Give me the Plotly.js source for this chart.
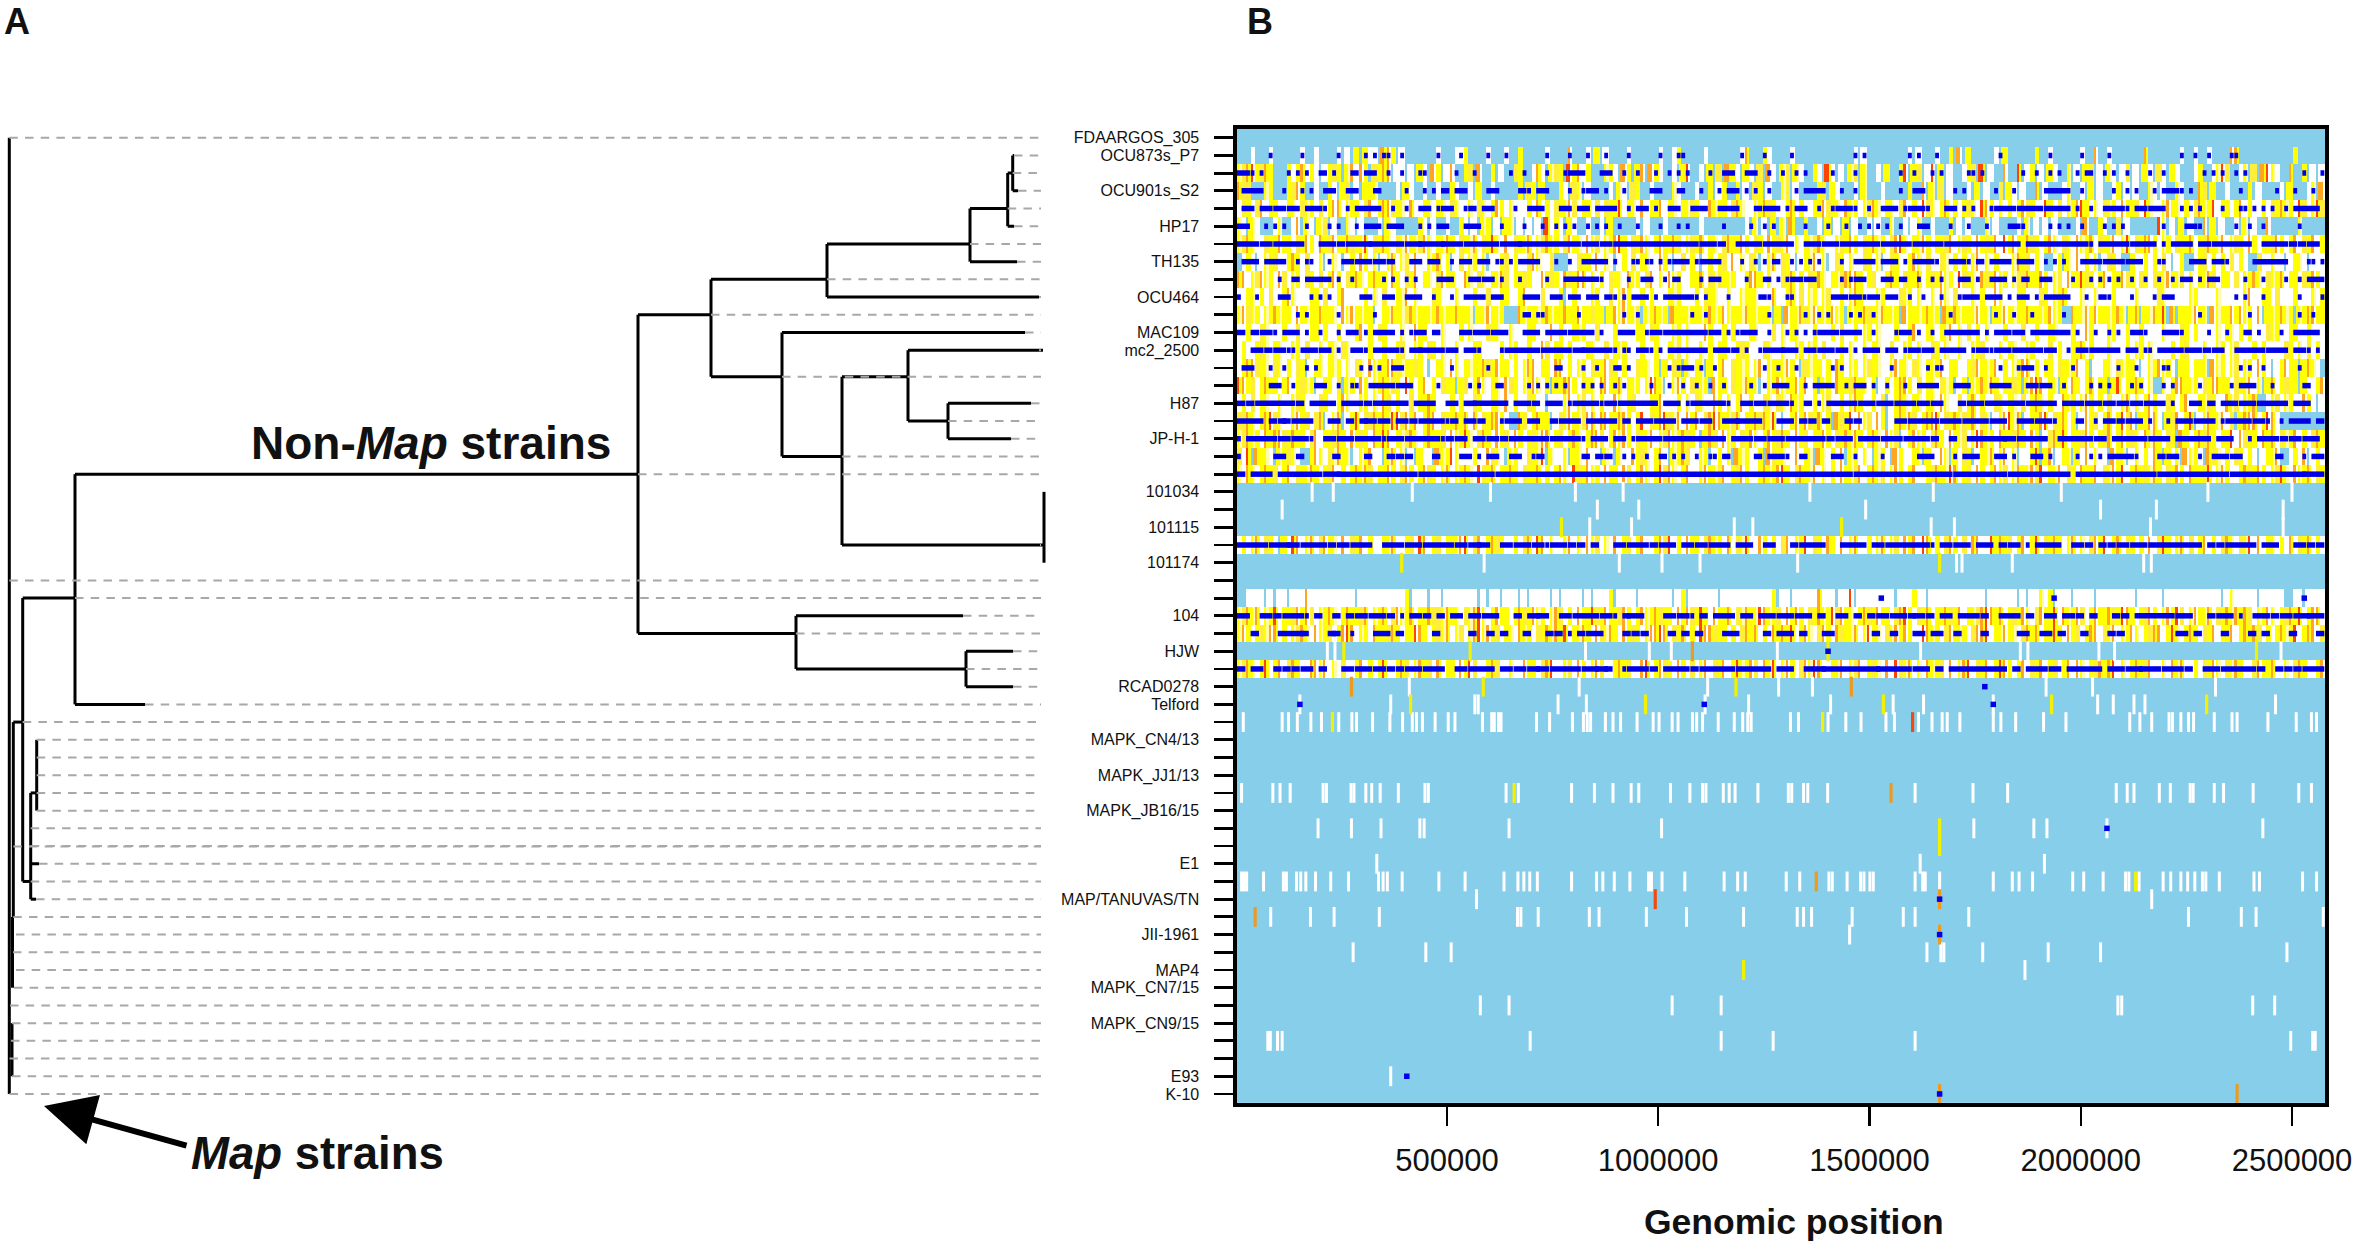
<!DOCTYPE html>
<html><head><meta charset="utf-8">
<script src="https://cdn.plot.ly/plotly-3.0.1.min.js"></script>
<style>html,body{margin:0;padding:0;background:#fff}</style></head>
<body><div id="chart" style="width:2355px;height:1246px"></div>
<script>
// ---- row labels (one per genome row, top to bottom) ----
const rowLabels = ["FDAARGOS_305","OCU873s_P7","","OCU901s_S2","","HP17","","TH135","","OCU464","","MAC109","mc2_2500","","","H87","","JP-H-1","","","101034","","101115","","101174","","","104","","HJW","","RCAD0278","Telford","","MAPK_CN4/13","","MAPK_JJ1/13","","MAPK_JB16/15","","","E1","","MAP/TANUVAS/TN","","JII-1961","","MAP4","MAPK_CN7/15","","MAPK_CN9/15","","","E93","K-10"];
const genomeTicks = [500000,1000000,1500000,2000000,2500000];
const binSize = 10729, genomeStart = 3154, genomeEnd = 2578076;

// ---- SNP density per 10.7 kb bin: . none, w white, y yellow, g pale gold, o orange, r red ----
const denseRows = [1,2,3,4,5,6,7,8,9,10,11,12,13,14,15,16,17,18,19,23,26,27,28,30];
const denseBins = [
"...w...w.. ....w..w.. ..w.w.y.yw w.ooy.w... ....w...ww y....w...w ..y.....w. ...o...w.y .w....w... ...w..wy.. ...w...... .wo...yw.. ..w....... ......w.w. ........w. w...w..y.o .y.....w.y ......y..w ......w..o ..w....... o.......w. .w..w....o o......... ...y......",
"ygorygoy.. .ywyowyw.w ygy.yowoy. gyoo.ww.w. yw.oy.wo.. yg.o..y.w. .gy..wow.y gy.ryowy.. .yyw.oy.yo .oyw..w.yr ..w.y.g.oy w.yw.g.ow. yg.yw..yw. rw.w.yg.y. .w.y..yr.y g.wr.y.w.. wyg.r.w..o ..r.wy.w.y w..y.w.yg. w.yw.wg.w. yw.gw.yw.. .wy..wyrg. .wy.g.oryw ..o..y.w.w",
"ogg...yy.. .ygoy..w.. yw.yg.w.yy y....w.yw. .w..w..yw. .w.y..w... ..y.gy.y.. .yw.gy.w.. ..w.yw.gy. .w....yw.. .w..y.wy.. y.w.gy.w.. yg.w....yg .yw...w.y. ..w.....y. .o.y.g.w.. .w.y.w..g. yw.w..o.w. ..wy..w.y. w..wy.w.w. .yw.w..yw. ..og.y..w. ...y.w.... w.y...wy.o",
"wgywgowyyw wyywgyywgw yoowyyywgo wyoogyywow wyywyywgyw wywgywyoyw ywwwywowyw gyyogwyywg wgyyrwyywo wyyowyywyy gywwoyyywg oywwyyogyw wyowywwyyo gyywoyywyg oywyywgowy wrgywyowyw ygywroywyw ywyogywwry wgwyyorywy wgyywoyygw rywwyoyywy wgoyyrwyyw yowywwywgy oyywrgwyrg",
"yw.yw...wy ..wo.yw.yg .w..yw.w.. .w.yw..... yw.w..w..y w.w.yy.w.y y.w.w.w.rw yw.yw..w.. w.y.....w. w...w..... ..w....... ..w.y.w.y. y.o..y..w. y.w.y.w..w .w..y..w.w y..w...y.w .w...y.w.. ..w.y.w.w. w....w.o.. yw..g.w... ...ry.w.y. w..o.y.w.. w.y.w..o.. ....y.....",
"ygoywwgyyo yywgyoywoy goyyogyyrw gyoywgyoyy goywyyoywg yyowgyrywo wgyyowygoy ywgoyywoyg wyyorywgyo ywyoyyogwy gyowyywgoy yoywgywoyg yowywyygoy wwygyoywgy oyywgorywy yoywyygowy gywoygyowr yoyyogywyo ywgywoyyow gyyowyrwgy ooywyywgyy owygoyyowy gywoywyygo ywyowgyowy",
".wyw.wyygw wyoywgwwy. wyw.wywoyw y.wyowygwo wwyyowy.wg wyywy.wwyg wywwgoywwg ...wwgyywo wyw.wywgwy ywwoyw.wgw yw.wywygwo wywgy.wyow gyw.wyyowy .wgywywwgy wy.wgywwyo ywgwwgywyw ywyowywyww wyoygwyw.. wy.ywowywy .wgyw..yww ywywgw.wy. .wygwywywg wyw..gwwyw w.wyyw.www",
"oowygoyywo gwyywgywgw yoywgyoywy oyywoywgyo wyywgoyyww oywgywyyog wyygywwoyg ywogyoowyw ywgyywoyyw gowywoyyww yyowgygyyy wwyooywyww gyowywgyoy wyygoooywy gwwyoywgyy owygyoyywr gyywogyoyy wyggoyyoyw ygwoyyrgyw yowyyogywg ywgyyoyygw ywyyogwyyw gwyyoywgyy owyywgyoyw",
"wwyywywgww yoywwwyywg wwyowwwwyw ywgwwyyowy wwwgywwwyw wwywwgwwyy wwyowwwgww wy.wywwwyy wwgwyoywwy wywwwyyyww wywgyywwyw wyyyywwwow wyowgwyywy gwwywyoyww wyywwwgyyw ywwywoywgw wwywywwoyw wwyywwwgyw yyowwwywwy wwwywwwwyw wwwgywwwww yywwwwywww wwyowwyywg wwwywwwywy",
"yogyywyyoy yywoyyyyoy yywoyoyyyy .wyyoyygoy yyyyoyyyoy yy.yyoyyy. ..oyyyyyoy yyoyyoyygy y.yoyoyyg. yyoyy.oyyy yyyyoyyoyy yyoyyyyy.y .oyyogyoyy yoyy.yyyog yyoyyy.oyy yyoyy.oyoy yyyoyy.yyo yyyyoyyyyo yy..oyyoyo yyyyoy.yo. yyoyr.o.yy yoyy.oyyyo yoyywo.yyy oyy.yyooyy",
"wwywwgywww ywwgwwyywy wwywwwyowy wgywwwywwo yywwwywwwy wywwwgyyww ywwwyywwwo wywwyyywwg wwwywwwwyy wgywwwyywy wwwoywwywy wwwyywwwgw ywyywwwyww wywgwwywyy wywwwywwyo wwyywyyowy wgwywywwwy wwwgwwywwy ywwwywwoyw wwyywwywwy wwwwywwwgy wywwwwywyy wywywwwgyy wwyywwywww",
"wywwygywyy wwyywgwwyw yywgywwwwy wwywwygwwy ywgywywwyw wwyywwwwyw yywwywwogw yywywwwyyw wgwyyywwwy wwywwyygwy wwywywyyww ygywwwgyww ywwyywyywg wwwywywwyw yywwgwwyyw ywwgywywwy wwyygwwwyw yywwyywwwg wywwyyowyw wwywwwywyy wywwwwywyg wwwywwyywy gwwwywywww wgywywgwyw",
"wyoogyywgy wywgy.wyyw yyywywgywo yyyoogyyyg yw.wyywoyw yyyyogyoyy wywyoowyyw oowywyywgy yogywywwgy ywy.ywgy.y wyy.ywyowg yyywyowyyy yoyw.gyyyw ywoywyywyg yywwyoyywg ywyyyowyyw wygoyyyowy wyyoowywyy wgyyyowy.w wyywgyyyw. wyyoyyw.yy wyyy.oyywy gwyywoyw.w yoyy.yoyw.",
"roygwyoyyw yowygyy.wy ywg.yywoyw yyoygywryw yowywgyy.y gwyoywyywo gywyyoywy. yyooywgyyw ooyyowyyyw yroy.wyoyw gyyy.oyywg yyoyy.wyyo yyyoyowy.y ywoyygoyyw y.wywyooyw gwyywgyy.w y.yyoyoywy ygy.yorowy y.ywoywyow yy.yrwyyoy wy..ywyooy yywgyooyyw gyyowy.yow ygyy.ywwyo",
"wywgwyywwy wwygywwwgy wwyoywwyyw ywogwywwgw yyoywwwywy wwgywwyywo wywwgyww.w wwyowygwyw ywwoywygww wyyowwwywy wgywwoywyw yowywwgywg ywoyywwywy gwwywyoyww ywg.wyoywy ywyywoywwg wyowywwgyw yywgwyoywy wwoyywyoyw ywgwwyowyw yoywwgywyo wwyygywwoy gwyyo..wyg wyywwoyw.w",
"ggoywyorgy wwyoygwgo. wyo.wyrwgg oyoyrrgoyo wyoowgyyoy owowgyooyw ..ogwyoyy. wgyoyygoow ooyyooywyr wgyorgyowo yowgoroyyg owyyogoyrw .wyoyogyow y.ogyrwoyg woy.wyoyog wyoorwgyoy gyowgy.wyo ryo.wyyorw gyowy.woyg wyowyrgo.y yoow.ygowy r.wyoyyowg .yooowyrow",
"ygoyywoyoo gyoyywgowy ygoywoygyw oyrowyygoy wyoyygwoyy rywgoywoyg woywygyoow ygwyoywyoo gwyoyoywgy yowygoyyog yw.yogwoyy wgyoywyoyg oywoygwyyo ywgyoyoywy oywoyg.wyo yywgoywoyy gwyroyywoy ygoywoy.wg oyrwyygoyw ygowyoygyw oyoywgy.oy wyogoywyyr wogyywoyow gyyowywgoy",
"gwr.oyyw.y ygyw..yoyw gyoyy.wyyo ww.yowy.w. yww.oyyryw wwywwogyw. yywwgyyr.y wwy.yywoww .yw.ywwoyg ywyow.yyog wwyy.wywy. oyywwy.ogy ywwowyy.oy wywo.yywyw .yyw.oywwy y.ywwoy.yw gy.wyyowyo wy.wwyr.yo .wyy.ywowy ww.oyy.wyw ywoy.ywy.o yyw.ogywyw gywyw.wyyo ..wywo.wyw",
"ywoywyoygw yowgyyoywy gowywyoyog wyyoywgoyw yogywyowyy oywrgyowyy oywgyyowyw yoywrgyoyy woyywogwyo ywyrgoywyo wwyoyygowy goywwyoyyo rywgoyyowy wywoyygowy oygwyoywyo wwygoyyrow ygwoywyoyg wyoyyogrwy yowgywoyyo wgyoyrwyoy gyoywgyoyw oyygrwyoyw wyogyoywyg rywoyyowgy",
"wywyowgyw. ywrowyowgo yywowgyowy wwyyowwygw rowygwyyyo rwgowyogyw wywgowrowy wwyowywoyg wywowygwyo wwyogrwywo yywgoyywow gyrwwoywyw gowyyrwgyw oywowyowwy wyowygwoyo wrowywgoyw gwoowwryoy gwyowyrwgy oywyowywgo yrwyowgywy wowgrywyow gwyowywgoy wgyrwowyyw ywowgyowyw",
"..wwww.w.w w.wwwowwww wwwwww.www wwwwwwwy.w ww.ww.wwww www.w.ww.w ww.w.wwww. w.wwww.w.w wwy.wwww.w wwwwww.wy. wwwwww.www wwwwwwwwy. ww.wwwwwow ww.wwr.www wwwww.wwwy ww.wwwwwww wwwww.wwww ww.w.wwywy .www.wwww. wwwwwwww.w wwww.wwwww wwwwwww.wy wwwww.wwww w..ww.wwww",
"ygoyowyyrw yygoyogwyy oywyoyygow yyowgoyyow yyoggyoyyw gyorywyoyy wyogyoyywy ogwywoyyrg yoyygoywyo yyogyywoyo gyrywoyyow gyoyyroyyg woyoywgyoy yrgoyywyog yoyywgoryw gyowyyogyo wyygoroyow ygyoywgoyy rwoyyogwyo yyogyroywy goywyoyrgw yoyyowgyoy oyogwyyoyw ygoyrwyoow",
"yoywygyoow ywygoywoyy gwyorowyyw oyygoywyyr oywygyowyg wyoryoygwy ywoyywgyoy oyrwyyoywo gyoywoygyw yoorowgyow ywroogyywy wgoyowywoy oyrwyoywgo ywogyyowyr yywgyoyoyw wroyywgoyy ywgoorwyyo yywgoyowyy rywoygwyoo wgyowyyoyw ygoowyrywy oywgyowyyo wyoyogwywy oyyrwyoowg",
"ygoywyrwyo wgoywwooyo wywgwwyowy wyrwwyogwy oygwowyywo yrgwwyogww ywwoyywgor wwygwoywyo gwwyoygwwo rwyogywoyw gwyowgyowy ryyogwoyrw yoywgoyrow wyyowygowy gywowrgyow ywoyygwowy orwgyowyro ywyowgyowy gwyowoywyg oyorwywyoy gowwywoyow wywgyoywgy oywwgoyyow wywgoywwyo"
];
// ---- strong-SNP runs (blue), as bin indices, same order as denseRows ----
const blueRuns = [
"7 14 22 28 30 32 33 36 44 49 55 59 68 73 77 81 86 93 97 98 111 116 122 136 138 148 150 154 168 179 186 192 208 211 214 219 220",
"0-2 3 5 11 13 15 18-19 21 25-26 28-30 33 36 40 41 48 52 60 63 68 72 73-76 80-82 85 88 92 95 97 99 104 107-109 112-114 117 120 123 125 131 136 146 149 153 155 161 162 164 173 176 179 181 185 187-188 191 193 196 201 204 213 215 217 220 222 235 239",
"1-5 10 14 16 19-21 24-26 30-31 37 41 43 45-46 48-50 55-57 62-63 64 66-68 73 76 77-79 81 85 91-93 97-98 102 106 108-110 112 114 117 123 125-129 133 136 146 149-151 158 160 167 171 178-183 186 193 196 198 202 204-207 208 210 221 229 233 237",
"1-3 5-7 8-10 11-13 15-18 19 24 26-31 34 37 40-42 44 45-47 50 51-52 54-56 61 64-67 71-73 75-77 79-83 86 88-90 92 95-97 100-103 106-110 114-115 116-119 121 123-125 128 131 132-135 136 139 142-145 147 148-151 152 156-158 160 162 166 167-171 172-177 178-183 185 188 191-195 196 198-200 201-204 208 210 212 217 221 222 224 226 228 231 233-238",
"0-2 6 8 10 15 20 22 26 28-31 33-36 40 42 44-46 50-53 58 63 67 70 72 74 77 79 81 84 88 93 97 99 107 113 116 118 125 130 134 137 139 141 143 146 150-152 157 161 165 170-172 173 179 181 183 186 191 193 195 204 209-211 212 220 223 226 234",
"0-4 5-7 8-14 18-21 22-23 24-29 29-36 37-40 40-45 45-49 50-57 58-62 62-75 76-79 80-82 83-101 102-105 106-107 110-115 116-122 125-128 129-132 133-141 142-148 149-155 156-172 174-187 188 190-196 197-202 204 206-210 212-214 215-223 226-231 232-233 234-235 236-238",
"1-4 6-10 13 15 16 20 23-25 26-29 30-32 33-34 38-40 42-44 47 49-51 53-55 57 58 60 62-66 70 73 76-81 83 87 88 90 91 93 95 96-99 101 102-106 111 114 116 118-119 122 124 126 128 133 136-140 142-145 147 149-153 154 157-160 161 163-164 166-170 172-175 178 180 182 186-190 191-195 196-199 203 204 210-213 215-217 218 224-231 236 237 239",
"9 12-13 15-20 22 25 32 34 37 39 44-47 51-53 54-56 58 62 68 72-79 80 86 89-91 94 96-97 102 104-106 112 116-117 119 121 122-124 125-127 133 135 136-138 142-144 146-147 150 153 155 159-161 163 166-169 171 173-174 177-179 184 188 190 192 194 197 200 203 206 208-210 212 214-216 222 226 231 234 236-239",
"0 4 9-11 16 18 20 27-29 32-34 37-40 43 47 50-54 56-58 63-66 69-71 73-75 77-79 81-82 83 85 87-90 92 94-100 101 103 108 115-116 117 121 122 131-134 135-137 138 139-141 143-145 148 151 155 159 160-163 165-168 170 172-174 176 178-183 187 190-191 192 197 202 204-206 220 222 226 234 239",
"13 15 22 30 63-64 66 67 75 85 88 100 103 117 125 128 130 135 137 140 157 167 171 175 182 212 223 234 237",
"0-1 3-4 5-7 8 10-13 15 18 22 24-26 28 30-34 36 38 39-41 43-44 49-51 52-55 56-59 63-66 68-72 73-78 80 84-87 90 91-93 94-103 104-106 108 110 111-114 117 121 123 125 127 128-132 133-137 140 145 146-148 150 153 156-163 165 167-170 171-173 175-183 185 189 192 194 197-199 200 204-207 208 214 218 222-223 225 230 233-238",
"3-5 6-7 8-10 11 12 14-17 18-20 22 25-27 28 30-35 36 38-40 40-45 46-48 50-52 53 58 59-66 67-73 74-76 76-82 83 85 86 88-90 91 93 95-103 105-108 109-110 112 115 116-120 120-123 125-127 128-131 132-134 136 138-141 143-145 147 148-150 151-153 155-160 162 163-165 166 167-170 171-177 178-180 183 185-187 188-194 196-198 200 201 203-208 209-212 213-214 215-217 220-226 227-231 233-235 236 238",
"1-3 7 10 15 17 27 29 31 34-36 47 55 70-71 76 79 83-84 86 95 97 98-100 102 105 116 119 123 131 133 144 152 154 155 168 172 173-175 178 184 194 198 204 205 221 223 226 234",
"7-9 12 17-19 22 25 26 29-34 35-38 44 51 53 57-58 64 66 68 70 72 76 78 80 83 85 91 95 98 101 104 107 113 116 118-121 125 127-131 134 136-138 140 143 147 150-154 158-161 166-170 174-176 177-179 182 188 190 192 197 199 204 206 212 219 221-224 228 235-236",
"0-1 2-3 4-12 13-14 16-21 23-27 28-29 30-37 39-43 46-48 50-52 52-59 61-64 65-66 68-71 73 74-79 80 81-83 84-92 94-97 99 100-107 108 111-113 114-116 117-121 122 125-126 128 130-136 137-140 141-144 145-149 150-152 153-155 159-160 161-164 165-173 174-180 182-186 187-190 191-193 194-196 197-199 200-204 206 210-212 214-215 217-220 221-224 225-231 233-236",
"0-5 7-8 9-10 10-11 12-16 20-22 24-25 27-28 28-30 31-33 35-37 38-39 40-45 46 47-48 50-52 53-54 58 59-62 64-66 69-70 71-75 77-83 85-86 88-91 92-96 98-101 102-104 107-110 110-115 119-122 124-125 126-127 129-130 134-135 136-137 145-147 148-154 155-159 160-165 166-169 172-175 176-179 180 185-186 189 191-193 194-195 196-199 201 205 207-210 211-215 217 218-223 224-226 227 230 232-236 238-239",
"0 2-8 9-11 12-15 16 19-21 22-25 26-31 32 33-36 37-44 45 46-47 48-50 52-54 55-57 58-59 60-68 69-75 76 78-81 83-85 87 88-93 94-107 109-113 114-116 117-120 121-129 130-131 132-135 137-141 142-146 147-152 153-154 157-158 161-169 169-171 172-178 181-188 189-191 193-200 201-205 207-214 216-219 223 225-229 230-231 232-234 235-238",
"0 8-10 13-14 21-22 28-29 33-34 35-36 37-38 43-44 49-51 53 55-57 60-62 65 66-67 76-77 79-80 81-82 85 87 90 93-94 96 98 101 104 105 107-108 114-115 117-120 121 124-125 131-133 136 142 150-153 158 160-163 167-169 171 175-177 179 185 188 190 192-197 198 203-204 205-207 212 215-218 219-221 229-230 235 237-239",
"0-1 3-7 9-18 19-22 22-39 40-56 57-135 136-157 158-169 170-183 185-202 203-218 219-235 235-239",
"0-6 7-11 11-13 14-19 20-21 22-24 25-29 32-36 37-40 41-47 48-50 51-53 53-55 58-60 61-64 65-67 68 69-72 73-74 75-76 78-79 83-85 86-90 91-92 93-96 98-100 101-103 104-108 110-113 116-118 122-123 124-129 133-138 140-142 143-152 153 155-157 158-161 163-166 168-169 170-172 174 176-181 184-186 187-188 190-191 192-193 194-196 197-200 201-212 214-215 216-217 218-224 226-229 233-235 236-237 238-239",
"",
"0-2 5-7 8-9 10-14 15 17-18 21-22 24-25 26-28 29-32 33-34 36 38-40 41-42 44-45 47-49 51-53 54-57 61-62 64-66 66-68 71-73 74-79 80-82 83 85-86 86-89 94-96 97-99 100 102-103 105-109 111-113 115-118 119-122 123-126 128-129 132-134 136-137 139-140 141-143 144-147 148-149 149-151 152-153 155-157 159-163 164-165 168-172 174-175 178-180 182-184 185-186 188-189 193-194 195-196 198-206 207-210 214-215 216-219 221 224-227 228-229 230-232 233-236 236-239",
"3-4 9-14 14-15 20-21 21-22 25 30-33 35-36 43-44 51-52 55-56 58-59 63-64 68-69 70-71 73 75-76 77-80 85-86 87-88 89-90 95-96 98-99 101-102 107-110 116-117 119-122 124-125 129-131 140-141 144-145 149-151 153-155 158-159 164-165 172-174 177-179 181-182 186-187 192-193 194-195 207-209 211-212 217-218 223-224 226-227 232-233 238-239",
"0-1 3-5 8-9 10-11 12-13 14-16 18-19 23-25 26-29 30-32 33-34 35-36 37-40 41-45 48-50 51-56 58-60 61-63 64-66 66-68 69-75 76-79 79-81 81-82 85 86-90 91-92 94-99 100-101 102-109 110-117 119-122 125-129 129-141 141-148 149-152 154-155 157-169 171-172 174-178 179-181 183-190 192-195 196-199 199-203 204-208 209-210 213-216 217-224 225-226 229-230 231-232 233-234 235-239"
];
const blueDotRows = [26,26,26,29,31,32,32,32,39,43,45,53,54];
const blueDotKb   = [1528,1937,2529,1402,1773,152,1109,1793,2062,1666,1666,405,1666];

// ---- single SNP stripes in the sparse rows, positions in kb ----
const whiteStripes = [
[20,[181,231,418,603,804,917,1359,1651,1954,2301,2500]],
[21,[110,856,954,1491,2047,2179,2479]],
[22,[838,937,1180,1224,1646,1701,2165,2479]],
[24,[588,908,1009,1099,1330,1706,1719,1838,2149,2167]],
[29,[217,235,828,979,1031,1282,1621,1857,1875,2043,2080,2474]],
[31,[411,813,1117,1285,1365,1918,2028,2319]],
[32,[152,367,566,574,763,830,1111,1214,1408,1556,1628,1793,2040,2077,2126,2152,2461]],
[33,[18,110,125,146,178,203,244,275,286,324,365,395,418,428,442,472,503,519,584,606,612,622,628,712,743,797,823,832,840,875,893,911,950,988,1002,1033,1047,1081,1091,1105,1142,1180,1200,1212,1220,1313,1332,1402,1444,1480,1539,1559,1616,1648,1672,1684,1714,1793,1811,1846,1912,1965,2116,2140,2168,2209,2217,2237,2255,2267,2316,2358,2370,2443,2510,2546,2558]],
[37,[14,88,105,129,207,215,273,280,308,322,342,385,448,456,640,669,795,849,893,936,954,1029,1075,1105,1113,1154,1168,1182,1236,1308,1316,1344,1354,1401,1608,1745,1827,2084,2110,2126,2186,2212,2259,2266,2316,2338,2408,2516,2546]],
[39,[195,274,344,436,446,647,1008,1747,1889,1920,2062,2431]],
[41,[334,1620,1914]],
[42,[14,20,26,66,113,120,144,154,166,189,225,267,338,349,359,394,481,543,635,668,682,696,714,795,854,869,896,933,977,984,1009,1063,1156,1188,1206,1303,1335,1404,1412,1447,1479,1487,1501,1509,1608,1626,1632,1666,1793,1838,1854,1886,1981,2007,2053,2106,2114,2138,2195,2213,2237,2253,2270,2288,2296,2328,2410,2423,2525,2558]],
[43,[570,2168]],
[44,[83,177,233,340,667,675,716,837,860,972,1067,1202,1329,1344,1363,1459,1580,1608,1735,2255,2380,2415,2574]],
[45,[1453]],
[46,[278,450,510,1636,1669,1676,1768,1923,2047,2488]],
[47,[1868]],
[49,[579,647,1033,1149,2088,2097,2407,2459]],
[51,[76,82,99,110,697,1149,1272,1608,2497,2549,2555]],
[53,[367]]
];
const yellowStripes = [[22,[771,1434]],[24,[393,1666]],[29,[256,555,1402,2416]],[31,[586,1184]],[32,[414,970,1533,1931,2298]],[33,[229,1389]],[37,[659]],[39,[1666]],[40,[1666]],[42,[2130]],[47,[1202]]];
const orangeStripes = [[29,[1081]],[31,[274,1457]],[37,[1551]],[42,[1374]],[43,[1666]],[44,[46]],[45,[1666]],[54,[1666,2370]]];
const redStripes = [[33,[1602]],[43,[993]]];

// ---- tree: horizontal branches (row, from, to), vertical links (x, rowTop, rowBottom), divergence units ----
const hRow  = [19,26,33,32,42,37,41,43,6,8,4,2,3,5,1,7,9,10,28,27,30,29,31,11,13.5,18,12,16,15,17,23,13.5];
const hFrom = [75,22.7,13.3,75,22.7,30.7,30.7,30.7,827,711,970,1007.7,1012.7,1007.7,1012.7,970,827,638,638,796,796,966,966,782,842,782,908,908,948,948,842,711];
const hTo   = [638,75,22.7,145,30.7,36.7,39,36,970,827,1007.7,1012.7,1018,1014,1014,1017,1039,711,796,963,966,1013,1013,1025,908,842,1043,948,1031,1011,1044,782];
const vX    = [9.3,13.3,22.7,75,30.7,36.7,638,711,827,970,1007.7,1012.7,782,842,908,948,796,966,1044,12.5,12];
const vTop  = [0,33,26,19,37,34,10,8,6,4,2,1,11,13.5,12,15,27,29,20,44,50];
const vBot  = [54,44,42,32,43,38,28,13.5,9,7,5,3,18,23,16,17,30,31,24,48,53];
// gray dashed leader of each row: row, start
const tipRow   = [0,1,2,3,4,5,6,7,8,9,10,11,12,13.5,15,16,17,18,19,23,25,26,27,28,29,30,31,32,33,34,35,36,37,38,39,40,40.02,41,42,43,44,45,46,47,48,49,50,51,52,53,54];
const tipStart = [9.3,1014,1012.7,1018,1007.7,1014,970,1017,827,1039,711,1025,1039,782,1031,948,1011,842,638,1040,9.3,75,963,796,1013,966,1013,145,22.7,36.7,36.7,36.7,36.7,36.7,30.7,30.7,13.3,39,30.7,36,13.3,16,13,16,14,10,12,11,9.5,12,9.5];
const tipEnd = 1041;

// ---- colours ----
const binLevels = {".":0,w:1,y:2,g:3,o:4,r:5};
const levelColors = ["#87CEEB","#FFFFFF","#FFFF00","#FFEE3A","#FFA51F","#FF4400","#FFFBA8"];
const paleLevel = 6;

// ---- build: each bin drawn as two sub-cells so that orange/red/sky stripes stay thin ----
const nRows = rowLabels.length, nBins = 240, nSub = nBins*2;
const z = rowLabels.map(()=>new Array(nSub).fill(0));
denseRows.forEach((r,i)=>{
  const s = denseBins[i].replace(/ /g,"");
  for(let c=0;c<nBins && c<s.length;c++){
    const ch=s[c], v=binLevels[ch];
    let second=v;
    if(ch==="o"||ch==="r") second=(c%2?1:2);
    if(ch==="y"&&c%3===0) second=paleLevel;
    if(ch==="."&&s[c-1]&&s[c-1]!=="."&&s[c+1]&&s[c+1]!==".") second=binLevels[s[c+1]];
    z[r][2*c]=v;
    z[r][2*c+1]=second;
  }
});
const xEdges = Array.from({length:nSub+1},(_,i)=>genomeStart+i*binSize/2);
const yEdges = Array.from({length:nRows+1},(_,i)=>i-0.5);
const cs=[]; const nL=levelColors.length; levelColors.forEach((c,i)=>{cs.push([i/nL,c]);cs.push([(i+1)/nL,c]);});

function stripes(list,color,w,name){
  const x=[],y=[];
  list.forEach(([r,ps])=>ps.forEach(p=>{x.push(p*1000,p*1000,null);y.push(r-0.56,r+0.56,null);}));
  return {type:"scatter",mode:"lines",x,y,xaxis:"x2",yaxis:"y2",line:{color,width:w,simplify:false},hoverinfo:"skip",name};
}
const bx=[],by=[];
denseRows.forEach((r,i)=>{
  blueRuns[i].split(" ").filter(Boolean).forEach(t=>{
    const [a,b]=t.split("-").map(Number); const e=(b===undefined?a:b)+1;
    bx.push(genomeStart+a*binSize,genomeStart+(e-0.15)*binSize,null); by.push(r,r,null);
  });
});
const bluePts={type:"scatter",mode:"markers",x:blueDotKb.map(k=>k*1000),y:blueDotRows,xaxis:"x2",yaxis:"y2",marker:{symbol:"square",size:5.5,color:"#0000E8"},hoverinfo:"skip"};

const tx=[],ty=[];
hRow.forEach((r,i)=>{tx.push(hFrom[i],hTo[i],null);ty.push(r,r,null);});
vX.forEach((x,i)=>{tx.push(x,x,null);ty.push(vTop[i],vBot[i],null);});
const dx=[],dy=[];
tipRow.forEach((r,i)=>{dx.push(tipStart[i],tipEnd,null);dy.push(r,r,null);});

const data=[
 {type:"scatter",mode:"lines",x:tx,y:ty,xaxis:"x",yaxis:"y",line:{color:"#000",width:3,simplify:false},hoverinfo:"skip"},
 {type:"scatter",mode:"lines",x:dx,y:dy,xaxis:"x",yaxis:"y",line:{color:"#A8A8A8",width:2,dash:"8.5px,7.2px",simplify:false},hoverinfo:"skip"},
 {type:"heatmap",x:xEdges,y:yEdges,z,xaxis:"x2",yaxis:"y2",zmin:0,zmax:nL,colorscale:cs,showscale:false,hoverinfo:"skip"},
 stripes(whiteStripes,"#FFFFFF",3,"white"),
 stripes(yellowStripes,"#F2F200",3.2,"yellow"),
 stripes(orangeStripes,"#EE9A1E",3.2,"orange"),
 stripes(redStripes,"#F04A10",3.2,"red"),
 {type:"scatter",mode:"lines",x:bx,y:by,xaxis:"x2",yaxis:"y2",line:{color:"#0000E8",width:5.5,simplify:false},hoverinfo:"skip"},
 bluePts
];
const W=2355,H=1246;
const yDom=[(H-1103)/H,(H-128.7)/H];
const yRange=[54.51,-0.508];
const fam='"Liberation Sans",Arial,sans-serif';
const layout={
 width:W,height:H,margin:{l:0,r:0,t:0,b:0},showlegend:false,paper_bgcolor:"#fff",plot_bgcolor:"#fff",
 font:{family:fam,color:"#111"},
 xaxis:{domain:[0,1050/W],range:[0,1050],visible:false,fixedrange:true},
 yaxis:{domain:yDom,range:yRange,visible:false,fixedrange:true,anchor:"x"},
 xaxis2:{domain:[1237/W,2325/W],range:[genomeStart,genomeEnd],anchor:"y2",showgrid:false,zeroline:false,showline:true,mirror:true,linecolor:"#000",linewidth:3.6,
   ticks:"outside",ticklen:19,tickwidth:2.4,tickcolor:"#000",tickvals:genomeTicks,ticktext:genomeTicks.map(String),tickfont:{size:31,family:fam,color:"#111"},ticklabelstandoff:8},
 yaxis2:{domain:yDom,range:yRange,anchor:"x2",showgrid:false,zeroline:false,showline:true,mirror:true,linecolor:"#000",linewidth:3.6,
   ticks:"outside",ticklen:19,tickwidth:2.8,tickcolor:"#000",tickvals:rowLabels.map((_,i)=>i),ticktext:rowLabels,tickfont:{size:16,family:fam,color:"#111"},ticklabelstandoff:12},
 annotations:[
  {xref:"paper",yref:"paper",x:2/W,y:1-21/H,text:"<b>A</b>",showarrow:false,xanchor:"left",yanchor:"middle",font:{size:36,family:fam,color:"#111"}},
  {xref:"paper",yref:"paper",x:1245/W,y:1-21/H,text:"<b>B</b>",showarrow:false,xanchor:"left",yanchor:"middle",font:{size:36,family:fam,color:"#111"}},
  {xref:"paper",yref:"paper",x:1794/W,y:1-1222/H,text:"<b>Genomic position</b>",showarrow:false,xanchor:"center",yanchor:"middle",font:{size:35.5,family:fam,color:"#111"}},
  {xref:"paper",yref:"paper",x:249/W,y:1-443/H,text:"<b>Non-<i>Map</i> strains</b>",showarrow:false,xanchor:"left",yanchor:"middle",font:{size:46,family:fam,color:"#111"}},
  {xref:"paper",yref:"paper",x:189/W,y:1-1153/H,text:"<b><i>Map</i> strains</b>",showarrow:false,xanchor:"left",yanchor:"middle",font:{size:45.5,family:fam,color:"#111"}},
  {xref:"paper",yref:"paper",x:44/W,y:1-1106/H,ax:144,ay:40,axref:"pixel",ayref:"pixel",text:"",showarrow:true,arrowhead:2,arrowsize:1.7,arrowwidth:6,arrowcolor:"#000"}
 ]
};
Plotly.newPlot("chart",data,layout,{staticPlot:true,displayModeBar:false});
</script></body></html>
